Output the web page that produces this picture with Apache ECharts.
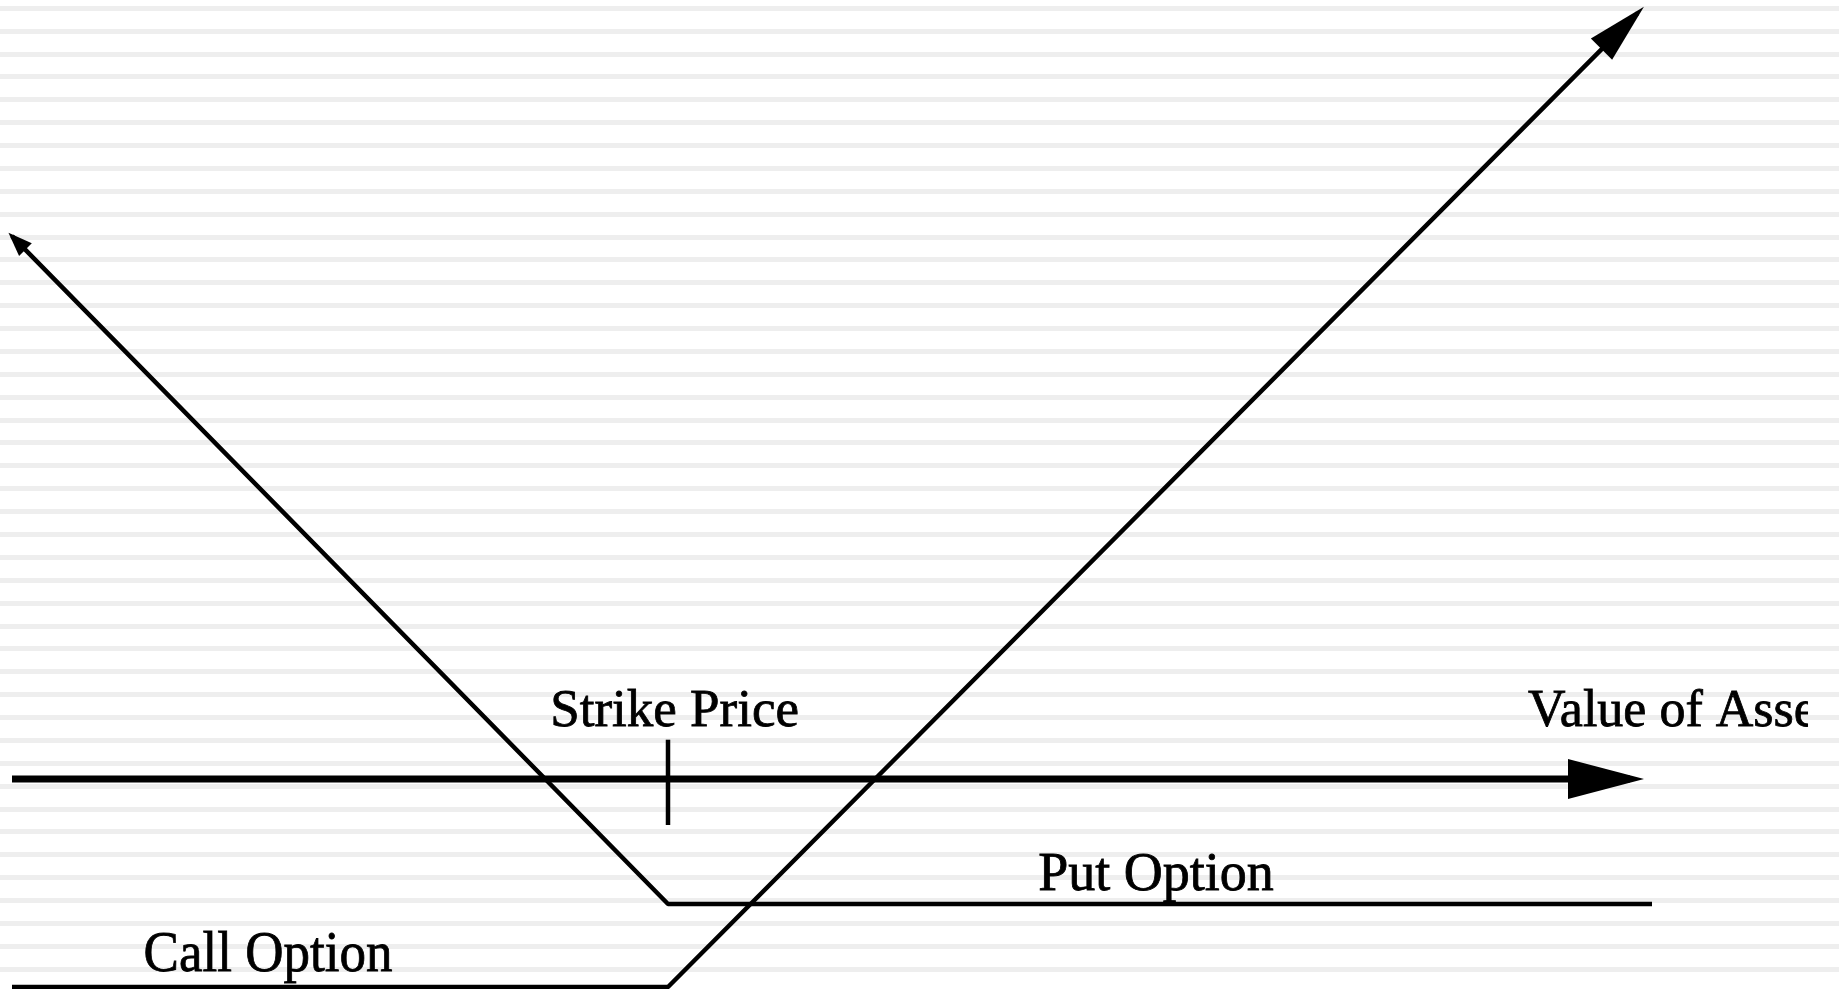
<!DOCTYPE html>
<html>
<head>
<meta charset="utf-8">
<title>Option payoff</title>
<script src="https://cdn.jsdelivr.net/npm/echarts@6.0.0/dist/echarts.min.js"></script>
<style>
    html, body { margin: 0; padding: 0; background: #fff; }
    #payoffChart { width: 1839px; height: 989px; }
</style>
</head>
<body>
<div id="payoffChart"></div>
<script>
// x = value of the asset, y = payoff (arbitrary units, same scale on both axes)
const strikePrice = 40;
const assetAxis = [[0, 0], [98.66, 0]];
const strikeTick = [[strikePrice, 2.4], [strikePrice, -2.8]];
const putOption = [[100, -7.62], [strikePrice, -7.62], [0, 33.1]];
const callOption = [[0, -12.68], [strikePrice, -12.68], [99.12, 46.7]];

const labelTexts = ['Strike Price', 'Value of Asset', 'Put Option', 'Call Option'];
const labelPoints = [[40.4, 4.06], [92.44, 4.06], [69.76, -5.9], [15.61, -10.82]];

// background stripes
const stripeCount = 42;

window.onload = () => {
    new PayoffChart().main();
};

class PayoffChart {
    chart;

    // per-label look; the axis title is cut off on the right like the original
    LABEL_STYLES = {
        'Strike Price': {size: 53, align: 'center'},
        'Value of Asset': {size: 52, align: 'left', clipWidth: 280},
        'Put Option': {size: 54, align: 'center'},
        'Call Option': {size: 57, align: 'center', scaleX: 0.93}
    };

    main() {
        this.initChart();
        this.loadChart();
    }

    initChart() {
        this.chart = echarts.init(document.getElementById('payoffChart'));
    }

    lineSeries(name, points, width) {
        return {
            name: name,
            type: 'line',
            data: points,
            symbol: 'none',
            silent: true,
            lineStyle: {color: '#000', width: width},
            emphasis: {disabled: true}
        };
    }

    // triangle head sitting on the last point of a line
    arrowHead(points, rotate, size, offset) {
        return {
            value: points[points.length - 1],
            symbolRotate: rotate,
            symbolSize: size,
            symbolOffset: offset
        };
    }

    renderLabel(params, api) {
        let text = labelTexts[params.dataIndex];
        let look = this.LABEL_STYLES[text];
        let point = api.coord([api.value(0), api.value(1)]);
        let el = {
            type: 'text',
            x: point[0],
            y: point[1],
            scaleX: look.scaleX || 1,
            silent: true,
            style: {
                text: text,
                font: look.size + 'px "Liberation Serif"',
                fill: '#000',
                stroke: '#000',
                lineWidth: 0.8,
                align: look.align,
                verticalAlign: 'middle'
            }
        };
        if (look.clipWidth) {
            el.clipPath = {
                type: 'rect',
                shape: {x: 0, y: -look.size, width: look.clipWidth, height: look.size * 2}
            };
        }
        return el;
    }

    loadChart() {
        let arrowData = [
            this.arrowHead(assetAxis, -90, [40, 76], [-24, 0]),
            this.arrowHead(callOption, -45, [30, 60], [-14.85, 14.85]),
            this.arrowHead(putOption, 45, [18, 24], [4.95, 4.95])
        ];

        let option = {
            backgroundColor: '#fff',
            animation: false,
            grid: [
                {left: 12, right: 187, top: 0, bottom: 0},
                {left: 0, right: 0, top: 8, bottom: 20, z: 0}
            ],
            xAxis: [
                {type: 'value', gridIndex: 0, min: 0, max: 100, show: false},
                {type: 'value', gridIndex: 1, min: 0, max: 1, show: false}
            ],
            yAxis: [
                {type: 'value', gridIndex: 0, min: -12.8, max: 47.5, show: false},
                {
                    type: 'value', gridIndex: 1, min: 0, max: stripeCount, interval: 1,
                    axisLine: {show: false},
                    axisTick: {show: false},
                    axisLabel: {show: false},
                    splitLine: {show: true, lineStyle: {color: '#eeeeee', width: 5}}
                }
            ],
            series: [
                this.lineSeries('Value of Asset', assetAxis, 7),
                this.lineSeries('Strike', strikeTick, 4.5),
                this.lineSeries('Put Option', putOption, 4.5),
                this.lineSeries('Call Option', callOption, 4.5),
                {
                    name: 'arrows',
                    type: 'scatter',
                    symbol: 'triangle',
                    data: arrowData,
                    silent: true,
                    clip: false,
                    itemStyle: {color: '#000', opacity: 1},
                    emphasis: {disabled: true}
                },
                {
                    name: 'labels',
                    type: 'custom',
                    data: labelPoints,
                    silent: true,
                    clip: false,
                    renderItem: (params, api) => this.renderLabel(params, api)
                }
            ]
        };

        this.chart.setOption(option);
    }
}
</script>
</body>
</html>
